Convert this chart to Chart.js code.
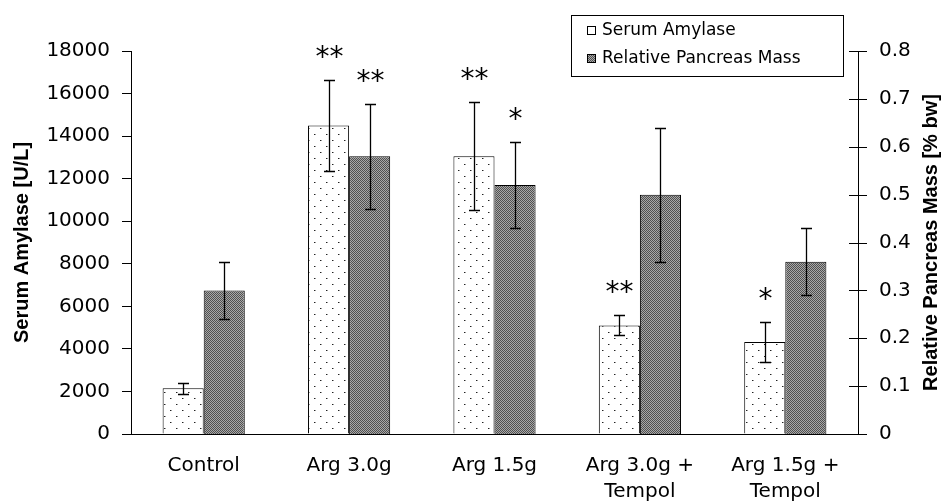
<!DOCTYPE html>
<html>
<head>
<meta charset="utf-8">
<script src="https://cdn.jsdelivr.net/npm/chart.js@4/dist/chart.umd.min.js"></script>
<style>
  body { margin: 0; background: #fff; }
</style>
</head>
<body>
<canvas id="chart" width="947" height="501"></canvas>
<script>
// values
const categories = ['Control', 'Arg 3.0g', 'Arg 1.5g', ['Arg 3.0g +', 'Tempol'], ['Arg 1.5g +', 'Tempol']];
const amylase = [2150, 14500, 13050, 5100, 4320];
const amylaseErr = [250, 2130, 2530, 470, 940];
const amylaseSig = ['', '**', '**', '**', '*'];
const mass = [0.30, 0.58, 0.52, 0.50, 0.36];
const massErr = [0.06, 0.11, 0.09, 0.14, 0.07];
const massSig = ['', '**', '*', '', ''];
const amylaseTicks = [0, 18000, 2000];
const massTicks = [0, 0.8, 0.1];

function dotPattern() {
    let c = document.createElement('canvas');
    c.width = 12; c.height = 12;
    let g = c.getContext('2d');
    g.fillStyle = '#fff';
    g.fillRect(0, 0, 12, 12);
    g.fillStyle = '#222';
    g.fillRect(2, 2, 1, 1);
    g.fillRect(8, 8, 1, 1);
    g.fillStyle = '#999';
    g.fillRect(3, 2, 1, 1);
    g.fillRect(9, 8, 1, 1);
    return g.createPattern(c, 'repeat');
}

function checkPattern() {
    let c = document.createElement('canvas');
    c.width = 2; c.height = 2;
    let g = c.getContext('2d');
    g.fillStyle = '#a8a8a8';
    g.fillRect(0, 0, 2, 2);
    g.fillStyle = '#505050';
    g.fillRect(0, 0, 1, 1);
    g.fillRect(1, 1, 1, 1);
    return g.createPattern(c, 'repeat');
}

const dots = dotPattern();
const checks = checkPattern();

const overlay = {
    id: 'overlay',
    afterDatasetsDraw(chart) {
        let ctx = chart.ctx;
        ctx.save();
        ctx.strokeStyle = '#000';
        ctx.fillStyle = '#000';
        ctx.lineWidth = 1.3;
        ctx.font = '28px "DejaVu Sans"';
        ctx.textAlign = 'center';
        ctx.textBaseline = 'middle';
        chart.data.datasets.forEach((ds, di) => {
            let meta = chart.getDatasetMeta(di);
            let sc = chart.scales[ds.yAxisID];
            meta.data.forEach((bar, i) => {
                let x = Math.round(bar.x) + 0.5;
                let hi = Math.round(sc.getPixelForValue(ds.data[i] + ds.errors[i])) + 0.5;
                let lo = Math.round(sc.getPixelForValue(ds.data[i] - ds.errors[i])) + 0.5;
                ctx.beginPath();
                ctx.moveTo(x, hi); ctx.lineTo(x, lo);
                ctx.moveTo(x - 5.5, hi); ctx.lineTo(x + 5.5, hi);
                ctx.moveTo(x - 5.5, lo); ctx.lineTo(x + 5.5, lo);
                ctx.stroke();
                if (ds.sig[i]) ctx.fillText(ds.sig[i], x, hi - 22);
            });
        });
        ctx.restore();
    },
    afterDraw(chart) {
        let ctx = chart.ctx;
        let area = chart.chartArea;
        let right = chart.scales.y1;
        ctx.save();
        ctx.strokeStyle = '#000';
        ctx.lineWidth = 1;
        // right axis ticks cross the axis line
        ctx.beginPath();
        right.ticks.forEach(t => {
            let y = Math.round(right.getPixelForValue(t.value)) + 0.5;
            ctx.moveTo(right.left - 9, y);
            ctx.lineTo(right.left + 9, y);
        });
        ctx.stroke();

        // right axis title, reading bottom to top
        ctx.fillStyle = '#000';
        ctx.font = 'bold 20px "Liberation Sans"';
        ctx.textAlign = 'center';
        ctx.textBaseline = 'middle';
        ctx.translate(931, (area.top + area.bottom) / 2);
        ctx.rotate(-Math.PI / 2);
        ctx.fillText('Relative Pancreas Mass [% bw]', 0, 0);
        ctx.restore();

        // legend box
        ctx.save();
        ctx.fillStyle = '#fff';
        ctx.fillRect(571, 15, 272, 61);
        ctx.strokeStyle = '#000';
        ctx.lineWidth = 1;
        ctx.strokeRect(571.5, 15.5, 272, 61);
        ctx.font = '17px "DejaVu Sans"';
        ctx.textBaseline = 'middle';
        chart.data.datasets.forEach((ds, i) => {
            let y = 30.5 + i * 28;
            ctx.fillStyle = ds.backgroundColor;
            ctx.fillRect(587, y - 4.5, 9, 9);
            ctx.strokeRect(587.5, y - 4, 8, 8);
            ctx.fillStyle = '#000';
            ctx.fillText(ds.label, 602, y);
        });
        ctx.restore();
    }
};

const tickFont = { family: '"DejaVu Sans"', size: 20 };

new Chart(document.getElementById('chart'), {
    type: 'bar',
    data: {
        labels: categories,
        datasets: [{
            label: 'Serum Amylase',
            data: amylase,
            errors: amylaseErr,
            sig: amylaseSig,
            yAxisID: 'y',
            backgroundColor: dots,
            borderColor: '#000',
            borderWidth: 1
        }, {
            label: 'Relative Pancreas Mass',
            data: mass,
            errors: massErr,
            sig: massSig,
            yAxisID: 'y1',
            backgroundColor: checks,
            borderColor: '#000',
            borderWidth: 1
        }]
    },
    options: {
        responsive: false,
        animation: false,
        categoryPercentage: 0.565,
        barPercentage: 1.0,
        layout: { padding: { top: 51, left: 0, right: 0, bottom: 0 } },
        plugins: {
            legend: { display: false },
            tooltip: { enabled: false }
        },
        scales: {
            x: {
                grid: { display: false },
                border: { display: true, color: '#000', width: 1 },
                ticks: {
                    color: '#000',
                    font: { family: '"DejaVu Sans"', size: 20, lineHeight: 1.3 },
                    padding: 11,
                    maxRotation: 0,
                    autoSkip: false
                },
                afterFit(s) { s.height = 67; }
            },
            y: {
                position: 'left',
                min: amylaseTicks[0],
                max: amylaseTicks[1],
                grid: { drawOnChartArea: false, drawTicks: true, tickLength: 9, color: '#000' },
                border: { display: true, color: '#000', width: 1 },
                ticks: {
                    stepSize: amylaseTicks[2],
                    color: '#000',
                    font: tickFont,
                    padding: 12,
                    callback: v => String(v)
                },
                title: {
                    display: true,
                    text: 'Serum Amylase [U/L]',
                    color: '#000',
                    font: { family: '"Liberation Sans"', size: 20, weight: 'bold' },
                    padding: { top: 10, bottom: 0 }
                },
                afterFit(s) { s.width = 131; }
            },
            y1: {
                position: 'right',
                min: massTicks[0],
                max: massTicks[1],
                grid: { display: false, drawTicks: false },
                border: { display: true, color: '#000', width: 1 },
                ticks: {
                    stepSize: massTicks[2],
                    color: '#000',
                    font: tickFont,
                    padding: 21,
                    callback: v => String(Math.round(v * 10) / 10)
                },
                afterFit(s) { s.width = 89; }
            }
        }
    },
    plugins: [overlay]
});
</script>
</body>
</html>
